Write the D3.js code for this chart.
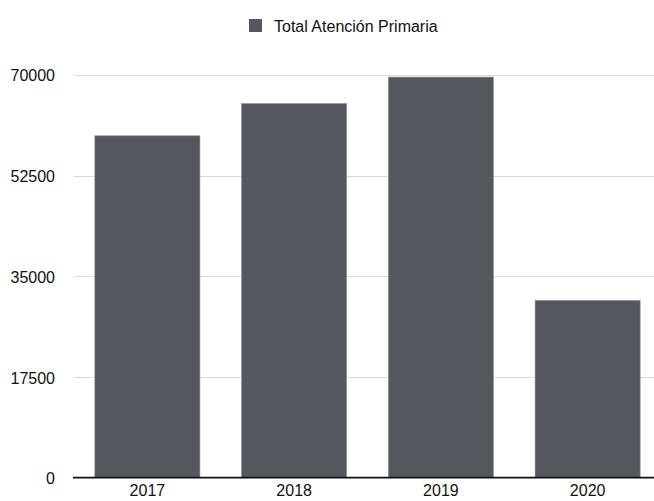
<!DOCTYPE html>
<html>
<head>
<meta charset="utf-8">
<script src="https://cdn.jsdelivr.net/npm/d3@7"></script>
<style>
	body { margin: 0; background: #fff; overflow: hidden; }
	svg { font-family: "Liberation Sans", Arial, sans-serif; display: block; }
</style>
</head>
<body>
<script>
const years = ["2017", "2018", "2019", "2020"];
const totals = [59400, 65000, 69600, 30800];
const tickValues = [0, 17500, 35000, 52500, 70000];
const seriesName = "Total Atención Primaria";

const width = 654;
const height = 501;
const barColor = "#53575e";

const svg = d3
	.select("body")
	.append("svg")
	.attr("width", width)
	.attr("height", height);

const x = d3
	.scaleBand()
	.domain(years)
	.range([74, 661])
	.paddingInner(0.284)
	.paddingOuter(0.142);

const y = d3.scaleLinear().domain([0, 70000]).range([477.7, 74.8]);

// gridlines
svg
	.append("g")
	.selectAll("line")
	.data(tickValues.filter((d) => d > 0))
	.enter()
	.append("line")
	.attr("x1", 74)
	.attr("x2", width)
	.attr("y1", (d) => Math.round(y(d)) + 0.5)
	.attr("y2", (d) => Math.round(y(d)) + 0.5)
	.attr("stroke", "#d9d9d9")
	.attr("stroke-width", 1);

// y labels
svg
	.append("g")
	.selectAll("text")
	.data(tickValues)
	.enter()
	.append("text")
	.attr("x", 55)
	.attr("y", (d) => y(d) + 1)
	.attr("dy", "0.35em")
	.attr("text-anchor", "end")
	.attr("font-size", 16)
	.attr("fill", "#111")
	.text((d) => d);

// bars
svg
	.append("g")
	.selectAll("rect")
	.data(years)
	.enter()
	.append("rect")
	.attr("x", (d) => x(d))
	.attr("y", (d, i) => y(totals[i]))
	.attr("width", x.bandwidth())
	.attr("height", (d, i) => y(0) - y(totals[i]))
	.attr("fill", barColor)
	.attr("stroke", "#8a8e94")
	.attr("stroke-width", 0.6);

// baseline
svg
	.append("line")
	.attr("x1", 73)
	.attr("x2", width)
	.attr("y1", y(0))
	.attr("y2", y(0))
	.attr("stroke", "#111")
	.attr("stroke-width", 1.8);

// x labels
const xAxis = d3.axisBottom(x).tickSize(0).tickPadding(7);
const gx = svg
	.append("g")
	.attr("transform", `translate(0, ${y(0)})`)
	.call(xAxis);
gx.select(".domain").remove();
gx.selectAll("text")
	.attr("font-size", 16)
	.attr("font-family", "Liberation Sans, Arial, sans-serif")
	.attr("fill", "#111");

// legend
const legend = svg.append("g");
legend
	.append("rect")
	.attr("x", 249)
	.attr("y", 19)
	.attr("width", 13)
	.attr("height", 13)
	.attr("fill", barColor);
legend
	.append("text")
	.attr("x", 274)
	.attr("y", 26)
	.attr("dy", "0.35em")
	.attr("font-size", 16)
	.attr("fill", "#111")
	.text(seriesName);
</script>
</body>
</html>
